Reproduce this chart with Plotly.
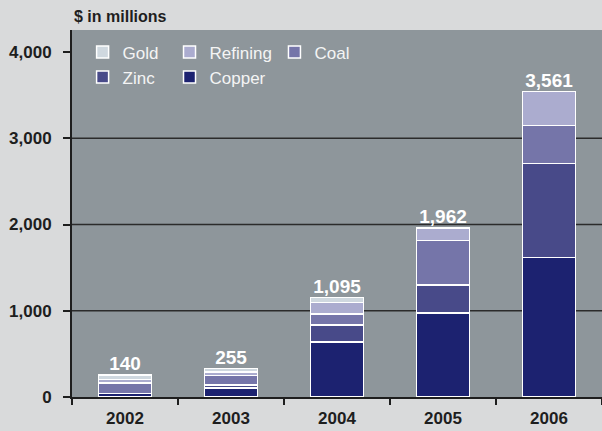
import plotly.graph_objects as go

# Segment values by year ($ millions)
years = ["2002", "2003", "2004", "2005", "2006"]
copper = [38, 105, 638, 975, 1615]
zinc = [0, 35, 199, 322, 1090]
coal = [125, 110, 123, 515, 445]
refining = [42, 42, 135, 150, 390]
gold = [50, 38, 58, 0, 0]

# Figures printed above each column
reported_totals = [140, 255, 1095, 1962, 3561]

y_ticks = [0, 1000, 2000, 3000, 4000]
grid_levels = [1000, 2000, 3000]

FONT = "Liberation Sans, Arial, sans-serif"
DARK = "#1e1e1e"

# name, values, colour, legend column
series = [
    ("Copper", copper, "#1c2270", "legend2"),
    ("Zinc", zinc, "#484a89", "legend"),
    ("Coal", coal, "#7575a9", "legend3"),
    ("Refining", refining, "#abaccf", "legend2"),
    ("Gold", gold, "#cfd8df", "legend"),
]

fig = go.Figure()
for name, vals, color, leg in series:
    fig.add_trace(go.Bar(
        x=years, y=vals, name=name, legend=leg,
        marker=dict(color=color, line=dict(color="white", width=1.5)),
        width=0.5,
    ))

# Column heights from the stacked segments; labels sit on top of them
stack_tops = [sum(s[1][i] for s in series) for i in range(len(years))]
fig.add_trace(go.Scatter(
    x=years, y=stack_tops, mode="text",
    text=[f"{v:,}" for v in reported_totals],
    textposition="top center",
    textfont=dict(family=FONT, size=19, color="white", weight="bold"),
    showlegend=False, hoverinfo="skip", cliponaxis=False,
))

annotations = [dict(
    x=0, y=1, xref="paper", yref="paper", xanchor="left", yanchor="bottom",
    text="$ in millions", showarrow=False, yshift=3,
    font=dict(family=FONT, size=16, color=DARK, weight="bold"),
)]

shapes = [
    dict(type="line", xref="paper", yref="y", x0=0, x1=1, y0=g, y1=g,
         line=dict(color="#2b2b2b", width=1.5), layer="below")
    for g in grid_levels
]

# Legend laid out as three columns
legend_common = dict(
    orientation="v", xanchor="left", yanchor="top", y=0.988,
    bgcolor="rgba(0,0,0,0)", traceorder="reversed",
    font=dict(family=FONT, size=17, color="#f4f4f4"),
)

fig.update_layout(
    width=602, height=431,
    margin=dict(l=72, r=0, t=30, b=34),
    paper_bgcolor="#d9dadb",
    plot_bgcolor="#8e969b",
    barmode="stack",
    showlegend=True,
    legend=dict(x=0.02, **legend_common),
    legend2=dict(x=0.184, **legend_common),
    legend3=dict(x=0.382, **legend_common),
    annotations=annotations,
    shapes=shapes,
    xaxis=dict(
        type="category", range=[-0.5, 4.5],
        tickson="boundaries", ticks="outside", ticklen=6, tickwidth=1.5,
        tickcolor=DARK, showline=True, linecolor=DARK, linewidth=2,
        showgrid=False, ticklabelstandoff=5,
        tickfont=dict(family=FONT, size=17, color=DARK, weight="bold"),
    ),
    yaxis=dict(
        range=[0, 4255], tickvals=y_ticks,
        ticktext=[f"{v:,}" for v in y_ticks],
        ticks="outside", ticklen=7, tickwidth=1.5, tickcolor=DARK,
        showline=True, linecolor=DARK, linewidth=2,
        showgrid=False, zeroline=False, ticklabelstandoff=8,
        tickfont=dict(family=FONT, size=17, color=DARK, weight="bold"),
    ),
)

fig.write_html("out.html")
